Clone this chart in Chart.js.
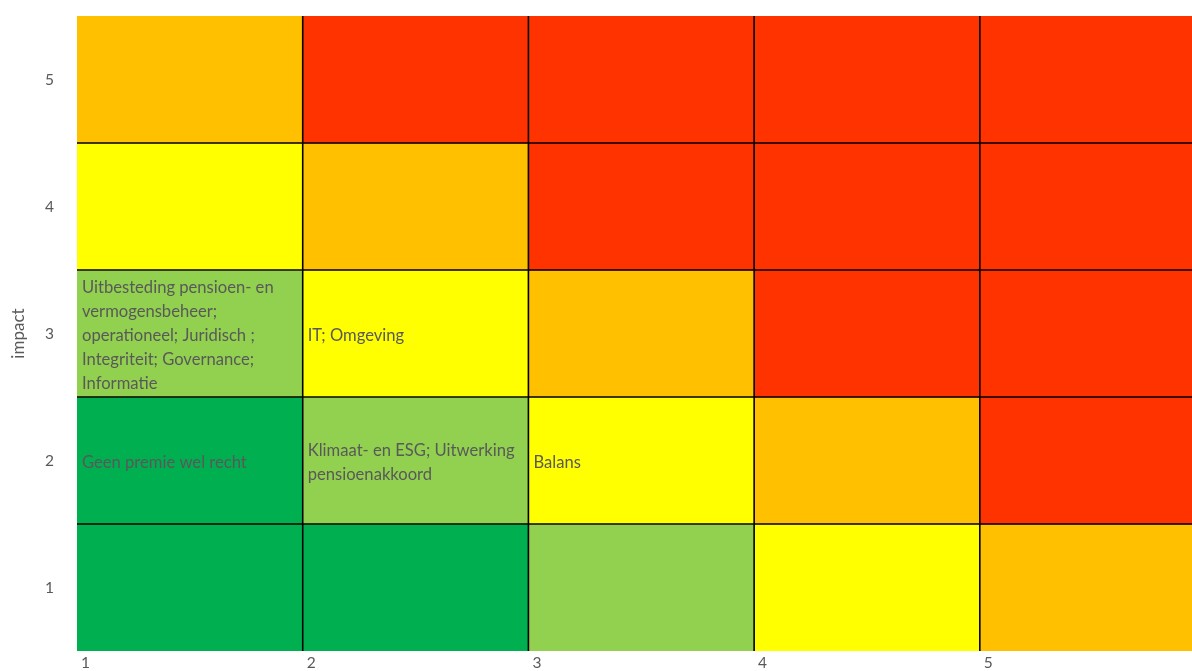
<!DOCTYPE html>
<html>
<head>
<meta charset="utf-8">
<script src="https://cdn.jsdelivr.net/npm/chart.js@4.4.0/dist/chart.umd.min.js"></script>
<style>
  html, body { margin: 0; padding: 0; background: #fff; overflow: hidden; }
  #wrap { width: 1192px; height: 671px; position: relative; }
</style>
</head>
<body>
<div id="wrap"><canvas id="heatmap"></canvas></div>
<script>
const likelihoodTicks = [1, 2, 3, 4, 5];
const impactTicks = [1, 2, 3, 4, 5];

// level per cell: rows = impact 1..5 (bottom to top), columns = likelihood 1..5
const levelRows = [
  ["low", "low", "minor", "medium", "high"],
  ["low", "minor", "medium", "high", "severe"],
  ["minor", "medium", "high", "severe", "severe"],
  ["medium", "high", "severe", "severe", "severe"],
  ["high", "severe", "severe", "severe", "severe"],
];
const levelColors = {
  low: "#00B050",
  minor: "#92D050",
  medium: "#FFFF00",
  high: "#FFC000",
  severe: "#FF3300",
};

// risks placed in the matrix
const riskLikelihood = [1, 1, 2, 2, 3];
const riskImpact = [3, 2, 3, 2, 2];
const riskLabels = [
  ["Uitbesteding pensioen- en", "vermogensbeheer;", "operationeel; Juridisch ;", "Integriteit; Governance;", "Informatie"],
  ["Geen premie wel recht"],
  ["IT; Omgeving"],
  ["Klimaat- en ESG; Uitwerking", "pensioenakkoord"],
  ["Balans"],
];

const textColor = "#595959";
Chart.defaults.font.family = "Lato";

const riskGrid = {
  id: "riskGrid",
  beforeDatasetsDraw(chart) {
    const { ctx, chartArea, scales: { x, y } } = chart;
    ctx.save();
    ctx.beginPath();
    ctx.rect(chartArea.left, chartArea.top, chartArea.width, chartArea.height);
    ctx.clip();
    levelRows.forEach((row, r) => {
      row.forEach((level, c) => {
        const x0 = x.getPixelForValue(likelihoodTicks[c]);
        const x1 = x.getPixelForValue(likelihoodTicks[c] + 1);
        const y0 = y.getPixelForValue(impactTicks[r] + 0.5);
        const y1 = y.getPixelForValue(impactTicks[r] - 0.5);
        ctx.fillStyle = levelColors[level];
        ctx.fillRect(x0, y0, x1 - x0 + 0.5, y1 - y0 + 0.5);
      });
    });
    ctx.strokeStyle = "#000";
    ctx.lineWidth = 1.6;
    likelihoodTicks.slice(1).forEach((v) => {
      const px = x.getPixelForValue(v);
      ctx.beginPath();
      ctx.moveTo(px, chartArea.top);
      ctx.lineTo(px, chartArea.bottom);
      ctx.stroke();
    });
    impactTicks.slice(1).forEach((v) => {
      const py = y.getPixelForValue(v - 0.5);
      ctx.beginPath();
      ctx.moveTo(chartArea.left, py);
      ctx.lineTo(chartArea.right, py);
      ctx.stroke();
    });
    ctx.restore();
  },
  afterDatasetsDraw(chart) {
    const { ctx } = chart;
    const meta = chart.getDatasetMeta(0);
    ctx.save();
    ctx.font = "16.6px Lato";
    ctx.fillStyle = textColor;
    ctx.textAlign = "left";
    ctx.textBaseline = "middle";
    const lineHeight = 24;
    meta.data.forEach((pt, i) => {
      const lines = riskLabels[i];
      const start = pt.y - ((lines.length - 1) * lineHeight) / 2;
      lines.forEach((line, j) => {
        ctx.fillText(line, pt.x + 5, start + j * lineHeight + 2);
      });
    });
    ctx.restore();
  },
};

new Chart(document.getElementById("heatmap"), {
  type: "scatter",
  data: {
    datasets: [
      {
        data: riskLikelihood.map((v, i) => ({ x: v, y: riskImpact[i] })),
        pointRadius: 0,
        pointHoverRadius: 0,
      },
    ],
  },
  options: {
    responsive: true,
    maintainAspectRatio: false,
    animation: false,
    layout: { padding: { top: 16, right: 0, bottom: 0, left: 0 } },
    plugins: {
      legend: { display: false },
      tooltip: { enabled: false },
    },
    scales: {
      x: {
        type: "linear",
        min: 1,
        max: 5.94,
        afterBuildTicks: (s) => { s.ticks = likelihoodTicks.map((v) => ({ value: v })); },
        afterFit: (s) => {
          s.height = 20;
          s.paddingLeft = 0;
          s.paddingRight = 0;
        },
        grid: { display: false },
        border: { display: false },
        ticks: {
          color: textColor,
          font: { size: 15.5 },
          align: "start",
          padding: -5,
          maxRotation: 0,
          callback: (v) => " " + v,
        },
      },
      y: {
        type: "linear",
        min: 0.5,
        max: 5.5,
        afterBuildTicks: (s) => { s.ticks = impactTicks.map((v) => ({ value: v })); },
        afterFit: (s) => {
          s.width = 77;
          s.paddingTop = 0;
          s.paddingBottom = 0;
        },
        grid: { display: false },
        border: { display: false },
        ticks: { color: textColor, font: { size: 15.5 }, padding: 15 },
        title: {
          display: true,
          text: "impact",
          color: textColor,
          font: { size: 17 },
          padding: { top: 8, bottom: 0 },
        },
      },
    },
  },
  plugins: [riskGrid],
});
</script>
</body>
</html>
